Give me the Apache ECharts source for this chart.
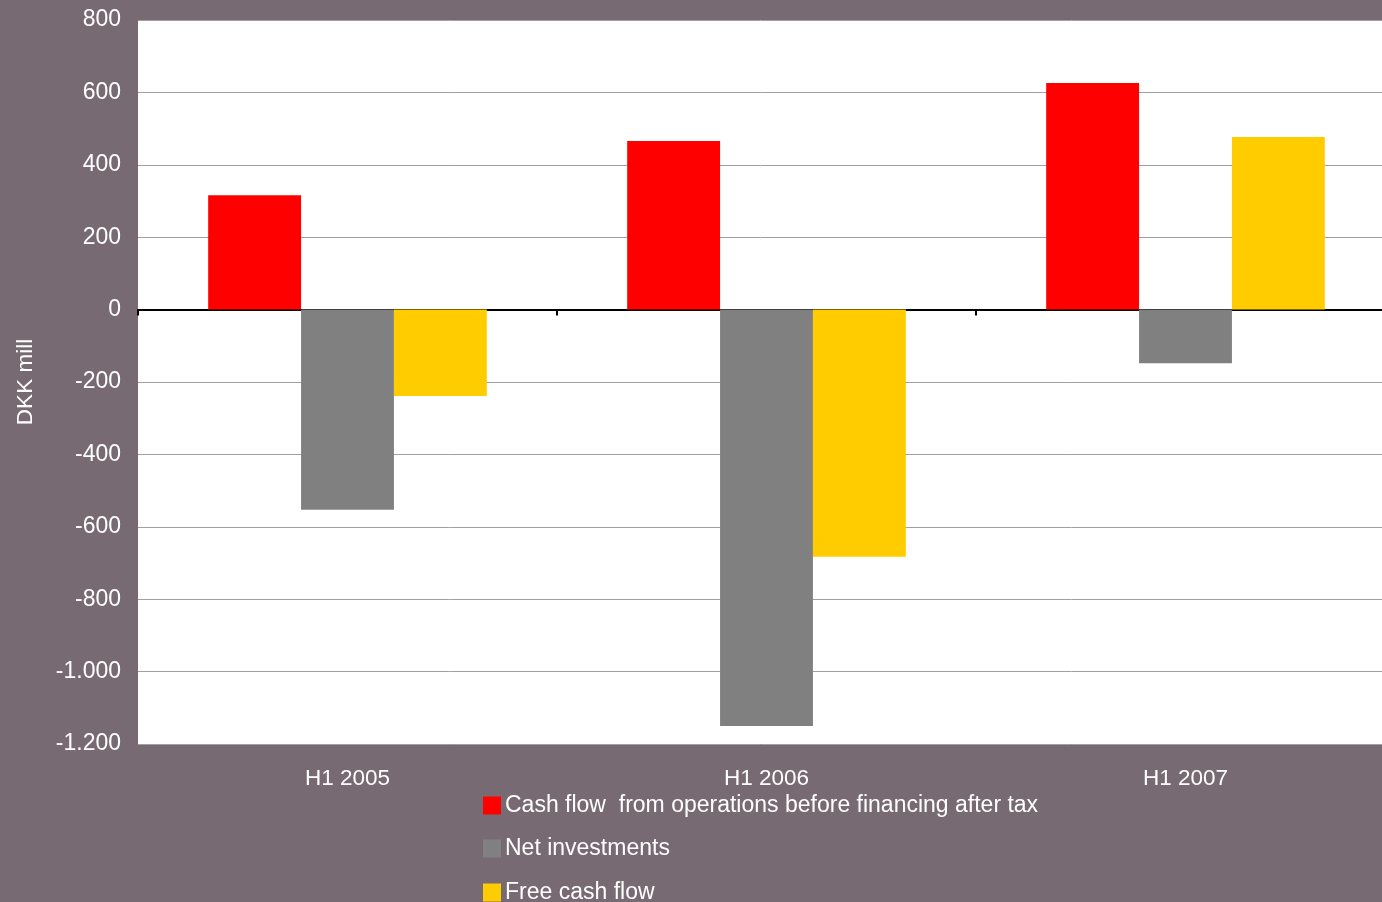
<!DOCTYPE html>
<html>
<head>
<meta charset="utf-8">
<script src="https://cdn.jsdelivr.net/npm/echarts@6/dist/echarts.min.js"></script>
<style>
  html, body { margin: 0; padding: 0; background: #786A73; }
  #chart { width: 1382px; height: 902px; }
</style>
</head>
<body>
<div id="chart"></div>
<script>
// Half-year periods
const categories = ['H1 2005', 'H1 2006', 'H1 2007'];

// Series names and values (DKK mill)
const seriesNames = [
  'Cash flow  from operations before financing after tax',
  'Net investments',
  'Free cash flow'
];
const cashFlowOps = [316, 466, 626];
const netInvestments = [-553, -1150, -148];
const freeCashFlow = [-239, -683, 477];

const seriesColors = ['#FF0000', '#808080', '#FFCC00'];

// Y axis range and step
const yMin = -1200;
const yMax = 800;
const yStep = 200;

const font = 'Liberation Sans, Arial, sans-serif';

// Thousands separated with a dot
function fmt(v) {
  const s = Math.abs(v).toString().replace(/\B(?=(\d{3})+(?!\d))/g, '.');
  return (v < 0 ? '-' : '') + s;
}

const chart = echarts.init(document.getElementById('chart'), null, { renderer: 'canvas' });

const values = [cashFlowOps, netInvestments, freeCashFlow];

// One legend block per series, stacked vertically
const legendTops = [794, 837, 881];
const legends = seriesNames.map((name, i) => ({
  orient: 'vertical',
  left: 483,
  top: legendTops[i],
  itemWidth: 18,
  itemHeight: 18,
  itemGap: 4,
  icon: 'rect',
  padding: 0,
  textStyle: { color: '#FFFFFF', fontSize: 23, fontFamily: font, padding: [0, 0, 0, -1] },
  data: [name]
}));

chart.setOption({
  animation: false,
  backgroundColor: '#786A73',
  textStyle: { fontFamily: font },
  grid: {
    left: 138, top: 20, width: 1257, height: 724,
    outerBoundsMode: 'none',
    show: true, backgroundColor: '#FFFFFF', borderWidth: 0
  },
  legend: legends,
  xAxis: [
    {
      type: 'category',
      data: categories,
      position: 'bottom',
      axisLine: { show: false, onZero: false },
      axisTick: { show: false },
      axisLabel: { color: '#FFFFFF', fontSize: 22.5, margin: 23, fontFamily: font },
      splitLine: { show: false }
    },
    {
      type: 'category',
      data: categories,
      position: 'bottom',
      axisLine: { show: true, onZero: true, lineStyle: { color: '#000000', width: 2 } },
      axisTick: { show: true, length: 6, lineStyle: { color: '#000000', width: 2 } },
      axisLabel: { show: false },
      splitLine: { show: false }
    }
  ],
  yAxis: {
    type: 'value',
    min: yMin,
    max: yMax,
    interval: yStep,
    name: 'DKK mill',
    nameLocation: 'middle',
    nameGap: 101,
    nameTextStyle: { color: '#FFFFFF', fontSize: 22.5, fontFamily: font },
    axisLine: { show: false },
    axisTick: { show: false },
    axisLabel: { color: '#FFFFFF', fontSize: 23, margin: 17, fontFamily: font, formatter: fmt },
    splitLine: { show: true, lineStyle: { color: '#A0A0A0', width: 1 } }
  },
  series: seriesNames.map((name, i) => ({
    name: name,
    type: 'bar',
    xAxisIndex: 0,
    data: values[i],
    barGap: '0%',
    barCategoryGap: '33.5%',
    itemStyle: { color: seriesColors[i] }
  }))
});
</script>
</body>
</html>
